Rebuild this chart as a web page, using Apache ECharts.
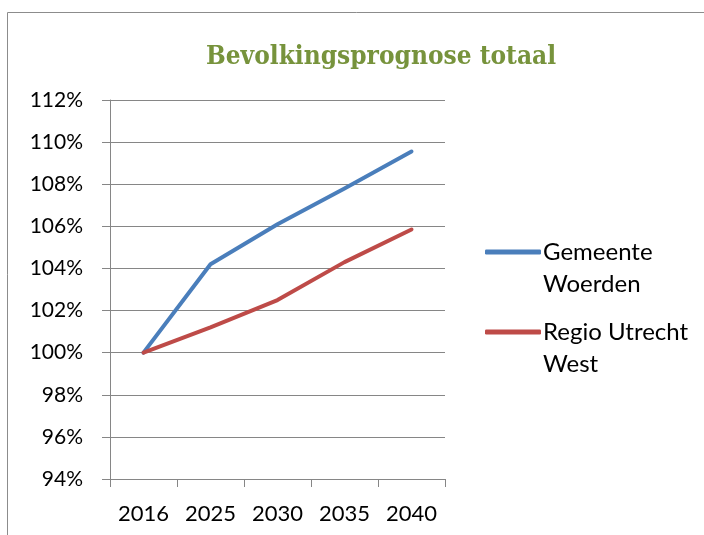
<!DOCTYPE html>
<html>
<head>
<meta charset="utf-8">
<script src="https://cdn.jsdelivr.net/npm/echarts@6/dist/echarts.min.js"></script>
<style>
  html, body { margin: 0; padding: 0; background: #fff; }
  #chart { width: 704px; height: 535px; }
</style>
</head>
<body>
<div id="chart"></div>
<script>
  'use strict'

  var years = ['2016', '2025', '2030', '2035', '2040'];
  var woerden = [100, 104.2, 106.1, 107.8, 109.55];
  var utrechtWest = [100, 101.2, 102.5, 104.3, 105.85];
  var seriesNames = ['Gemeente Woerden', 'Regio Utrecht West'];
  // blank first line keeps the icon level with the first text line
  var legendLabels = [' \nGemeente\nWoerden', ' \nRegio Utrecht\nWest'];

  var font = 'Lato';
  var gray = '#868686';

  var chart = echarts.init(document.getElementById('chart'));

  function legendFor(i, top) {
    return {
      data: [seriesNames[i]],
      orient: 'vertical',
      left: 485,
      top: top,
      padding: 0,
      itemWidth: 56,
      itemHeight: 5,
      itemGap: 0,
      icon: 'roundRect',
      formatter: function () { return legendLabels[i]; },
      textStyle: {
        fontFamily: font,
        fontSize: 24,
        color: '#000',
        lineHeight: 32,
        padding: [0, 0, 0, -3]
      }
    };
  }

  var option = {
    animation: false,
    title: {
      text: 'Bevolkingsprognose totaal',
      left: 376,
      textAlign: 'center',
      top: 39,
      textStyle: {
        fontFamily: 'DejaVu Serif Condensed',
        fontWeight: 'bold',
        fontSize: 26,
        color: '#77933C'
      }
    },
    graphic: [{
      type: 'rect',
      shape: { x: 7.5, y: 12.5, width: 720, height: 560 },
      style: { fill: 'none', stroke: '#8c8c8c', lineWidth: 1 },
      silent: true
    }],
    grid: { left: 110, right: 259, top: 100, bottom: 56 },
    legend: [legendFor(0, 204), legendFor(1, 284)],
    xAxis: {
      type: 'category',
      data: years,
      boundaryGap: true,
      axisLine: { lineStyle: { color: gray, width: 1 } },
      axisTick: { show: true, interval: 0, length: 8, lineStyle: { color: gray } },
      axisLabel: {
        interval: 0,
        hideOverlap: false,
        fontFamily: font,
        fontSize: 22,
        color: '#000',
        margin: 24
      }
    },
    yAxis: {
      type: 'value',
      min: 94,
      max: 112,
      interval: 2,
      axisLine: { show: true, lineStyle: { color: gray, width: 1 } },
      axisTick: { show: true, length: 8, lineStyle: { color: gray } },
      splitLine: { lineStyle: { color: gray, width: 1 } },
      axisLabel: {
        fontFamily: font,
        fontSize: 21,
        color: '#000',
        margin: 27,
        formatter: '{value}%'
      }
    },
    series: [
      {
        name: seriesNames[0],
        type: 'line',
        data: woerden,
        showSymbol: false,
        symbol: 'none',
        color: '#4A7EBB',
        lineStyle: { width: 4, cap: 'round', join: 'round' }
      },
      {
        name: seriesNames[1],
        type: 'line',
        data: utrechtWest,
        showSymbol: false,
        symbol: 'none',
        color: '#BE4B48',
        lineStyle: { width: 4, cap: 'round', join: 'round' }
      }
    ]
  };
  chart.setOption(option);
</script>
</body>
</html>
